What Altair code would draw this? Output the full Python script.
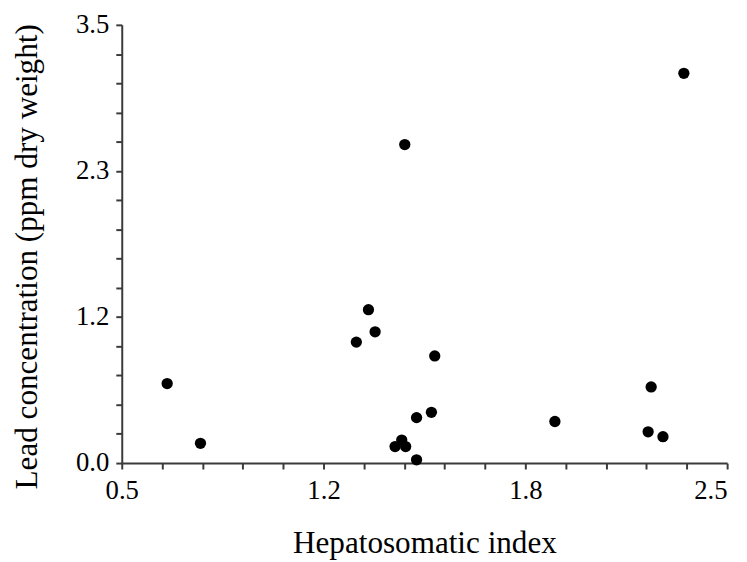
import altair as alt
import pandas as pd

# Data
hepatosomatic_index = [0.65, 0.76, 1.275, 1.315, 1.337, 1.534, 1.523, 1.474, 1.425,
                       1.403, 1.438, 1.474, 1.435, 2.357, 2.249, 1.931, 2.239, 2.288]
lead_ppm = [0.635, 0.158, 0.966, 1.225, 1.048, 0.856, 0.405, 0.363, 0.184,
            0.132, 0.132, 0.026, 2.544, 3.113, 0.608, 0.332, 0.250, 0.211]

x_ticks = [0.5 + i * 2 / 15 for i in range(16)]
y_ticks = [i * 3.5 / 15 for i in range(16)]

df = pd.DataFrame({"hsi": hepatosomatic_index, "lead": lead_ppm})

FONT = "Liberation Serif"
AXIS_COLOR = "#3a3a3a"

x_axis = alt.Axis(
    values=x_ticks,
    labelExpr="abs((datum.value-0.5)/(2/3) - round((datum.value-0.5)/(2/3))) < 0.01 ? format(datum.value, '.1f') : ''",
    labelAlign={"condition": {"test": "datum.value > 2.4", "value": "right"}, "value": "center"},
    labelPadding=9, labelFont=FONT, labelFontSize=27,
    title="Hepatosomatic index", titleX=306, titleY=90, titleBaseline="alphabetic", titleAlign="center",
    titleFontSize=31.5,
)
y_axis = alt.Axis(
    values=y_ticks,
    labelExpr="abs(datum.value/(3.5/3) - round(datum.value/(3.5/3))) < 0.01 ? format(datum.value, '.1f') : ''",
    labelPadding=7, labelFont=FONT, labelFontSize=27,
    title="Lead concentration (ppm dry weight)", titleFontSize=31.5,
    titleAngle=270, titleX=-86, titleY=234, titleBaseline="alphabetic", titleAlign="center",
)

chart = (
    alt.Chart(df)
    .mark_circle(color="black", opacity=1, size=130)
    .encode(
        x=alt.X("hsi:Q", scale=alt.Scale(domain=[0.5, 2.5], nice=False, zero=False), axis=x_axis),
        y=alt.Y("lead:Q", scale=alt.Scale(domain=[0, 3.5], nice=False, zero=False), axis=y_axis),
    )
    .properties(
        width=612, height=443,
        autosize=alt.AutoSizeParams(type="none"),
        padding={"left": 115, "top": 14, "right": 12, "bottom": 100},
        background="white",
    )
    .configure(font=FONT)
    .configure_axis(
        grid=False, domainColor=AXIS_COLOR, domainWidth=2, tickColor=AXIS_COLOR, tickWidth=2,
        tickSize=6, labelColor="black",
        labelOverlap=False, labelFlush=False,
        titleFont=FONT, titleFontWeight="normal", titleColor="black",
    )
    .configure_view(stroke=None)
)

chart.save("out.html", embed_options={"renderer": "svg", "actions": False})
